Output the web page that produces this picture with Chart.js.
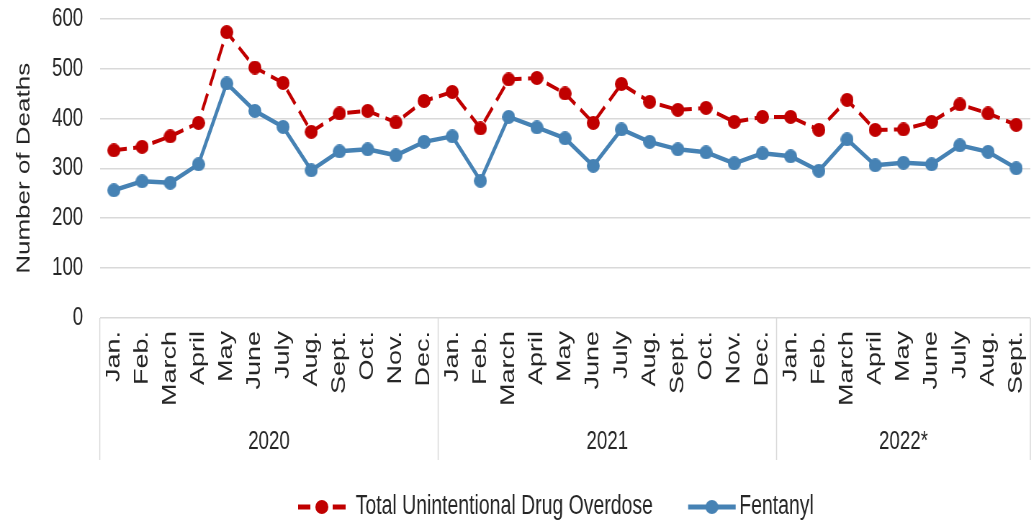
<!DOCTYPE html>
<html>
<head>
<meta charset="utf-8">
<script src="https://cdn.jsdelivr.net/npm/chart.js@4.4.0/dist/chart.umd.min.js"></script>
<style>
  html, body { margin: 0; padding: 0; background: #fff; overflow: hidden; }
  /* the chart is drawn 1449px wide and squeezed horizontally (x0.72) */
  #wrap { width: 1449px; height: 523px; transform: scaleX(0.72); transform-origin: 0 0; }
</style>
</head>
<body>
<div id="wrap"><canvas id="overdoseChart" width="1449" height="523"></canvas></div>
<script>
// Meses por año (2022 solo hasta septiembre)
const months = [
  'Jan.', 'Feb.', 'March', 'April', 'May', 'June', 'July', 'Aug.', 'Sept.', 'Oct.', 'Nov.', 'Dec.',
  'Jan.', 'Feb.', 'March', 'April', 'May', 'June', 'July', 'Aug.', 'Sept.', 'Oct.', 'Nov.', 'Dec.',
  'Jan.', 'Feb.', 'March', 'April', 'May', 'June', 'July', 'Aug.', 'Sept.'
];
const years = ['2020', '2021', '2022*'];
const monthsPerYear = [12, 12, 9];

// Muertes por mes
const totalOverdose = [
  336, 343, 364, 391, 573, 502, 471, 373, 410, 415, 392, 435,
  453, 380, 478, 481, 450, 391, 469, 433, 417, 421, 393, 403,
  403, 377, 437, 377, 378, 393, 428, 410, 387
];
const fentanyl = [
  256, 274, 271, 308, 470, 415, 383, 296, 334, 338, 326, 353,
  364, 275, 403, 382, 360, 305, 378, 353, 338, 332, 310, 330,
  324, 295, 358, 306, 311, 308, 346, 333, 300
];

const RED = '#c00000';
const BLUE = '#4682b4';
const GRID = '#d9d9d9';
const TEXT = '#262626';
const FONT = "'Liberation Sans', Arial, sans-serif";
const AXIS_HEIGHT = 142;  // alto del eje x (meses + años)

// Marcador ovalado (más ancho porque el canvas se comprime en x)
function makeMarker(color, w, h) {
  const c = document.createElement('canvas');
  c.width = w;
  c.height = h;
  const g = c.getContext('2d');
  g.fillStyle = color;
  g.beginPath();
  g.ellipse(w / 2, h / 2, w / 2, h / 2, 0, 0, Math.PI * 2);
  g.fill();
  return c;
}
const redMarker = makeMarker(RED, 18, 14);
const blueMarker = makeMarker(BLUE, 18, 14);

// Cajas y etiquetas de año debajo de los meses
const yearGroups = {
  id: 'yearGroups',
  afterDraw(chart) {
    const { ctx } = chart;
    const x = chart.scales.x;
    const top = chart.chartArea.bottom;
    const bottom = top + AXIS_HEIGHT;
    const edge = i => i === 0 ? x.left
      : i >= months.length ? x.right
      : (x.getPixelForValue(i - 1) + x.getPixelForValue(i)) / 2;

    ctx.save();
    ctx.strokeStyle = GRID;
    ctx.lineWidth = 1.5;
    ctx.fillStyle = TEXT;
    ctx.font = '26px ' + FONT;
    ctx.textAlign = 'center';
    ctx.textBaseline = 'middle';

    let start = 0;
    years.forEach((year, i) => {
      const end = start + monthsPerYear[i];
      const x0 = edge(start);
      const x1 = edge(end);
      ctx.beginPath();
      ctx.moveTo(x0, top);
      ctx.lineTo(x0, bottom);
      if (i === years.length - 1) {
        ctx.moveTo(x1, top);
        ctx.lineTo(x1, bottom);
      }
      ctx.stroke();
      ctx.fillText(year, (x0 + x1) / 2, top + 124);
      start = end;
    });
    ctx.restore();
  }
};

// Leyenda con línea y marcador, como en Excel
const lineLegend = {
  id: 'lineLegend',
  afterDraw(chart) {
    const { ctx } = chart;
    const items = [
      { text: chart.data.datasets[0].label, color: RED, dashed: true, marker: redMarker },
      { text: chart.data.datasets[1].label, color: BLUE, dashed: false, marker: blueMarker }
    ];
    const y = 507;
    let x = 414;
    ctx.save();
    ctx.font = '27px ' + FONT;
    ctx.textBaseline = 'middle';
    ctx.fillStyle = TEXT;
    items.forEach(item => {
      ctx.strokeStyle = item.color;
      ctx.lineWidth = 5;
      ctx.beginPath();
      if (item.dashed) {
        ctx.moveTo(x, y); ctx.lineTo(x + 17, y);
        ctx.moveTo(x + 48, y); ctx.lineTo(x + 66, y);
      } else {
        ctx.moveTo(x, y); ctx.lineTo(x + 66, y);
      }
      ctx.stroke();
      ctx.drawImage(item.marker, x + 33 - item.marker.width / 2, y - item.marker.height / 2);
      x += 66 + (item.dashed ? 14 : 5);
      ctx.fillText(item.text, x, y);
      x += ctx.measureText(item.text).width + 49;
    });
    ctx.restore();
  }
};

const lineData = {
  labels: months,
  datasets: [
    {
      label: 'Total Unintentional Drug Overdose',
      data: totalOverdose,
      borderColor: RED,
      backgroundColor: RED,
      borderWidth: 4,
      borderDash: [18, 9],
      pointStyle: redMarker,
      pointRadius: 7,
      tension: 0,
      fill: false
    },
    {
      label: 'Fentanyl',
      data: fentanyl,
      borderColor: BLUE,
      backgroundColor: BLUE,
      borderWidth: 4.5,
      pointStyle: blueMarker,
      pointRadius: 7,
      tension: 0,
      fill: false
    }
  ]
};

const ctx = document.getElementById('overdoseChart').getContext('2d');
new Chart(ctx, {
  type: 'line',
  data: lineData,
  options: {
    responsive: false,
    animation: false,
    layout: { padding: { top: 0, right: 0, bottom: 63, left: 18 } },
    plugins: {
      legend: { display: false },
      tooltip: { enabled: false }
    },
    scales: {
      x: {
        offset: true,
        grid: { display: false },
        border: { display: false },
        ticks: {
          autoSkip: false,
          maxRotation: 90,
          minRotation: 90,
          padding: 5,
          color: TEXT,
          font: { family: FONT, size: 27 }
        },
        afterFit: scale => { scale.height = AXIS_HEIGHT; }
      },
      y: {
        min: 0,
        max: 600,
        // marcas invisibles para separar las etiquetas del área
        grid: { color: GRID, lineWidth: 1.5, drawTicks: true, tickLength: 20, tickColor: 'rgba(0,0,0,0)' },
        border: { display: false },
        ticks: {
          stepSize: 100,
          padding: 3,
          color: TEXT,
          font: { family: FONT, size: 26 }
        },
        title: {
          display: true,
          text: 'Number of Deaths',
          color: TEXT,
          font: { family: FONT, size: 26 },
          padding: { top: 0, bottom: 20 }
        }
      }
    }
  },
  plugins: [yearGroups, lineLegend]
});
</script>
</body>
</html>
